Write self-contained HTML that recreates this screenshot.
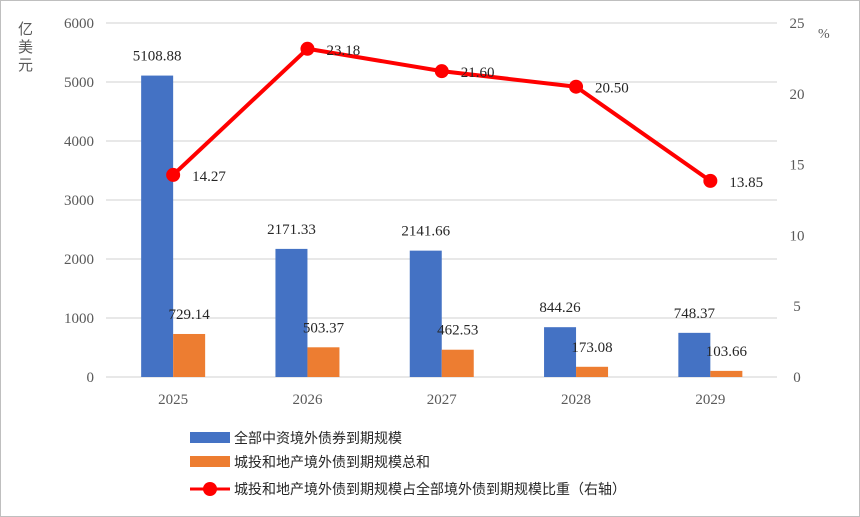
<!DOCTYPE html>
<html><head><meta charset="utf-8">
<style>
html,body{margin:0;padding:0;background:#fff;}
svg{display:block;font-family:"Liberation Serif","Noto Serif CJK SC",serif;}
.cj{font-family:"Liberation Sans","Noto Sans CJK SC",sans-serif;}
</style></head>
<body>
<svg id="chart" width="860" height="517" viewBox="0 0 860 517">
<rect x="0.5" y="0.5" width="859" height="516" fill="#fff" stroke="#bfbfbf"/>
<g id="axes"></g>
<g id="marks"></g>
<g id="labels"></g>
<text x="18" y="34" font-size="15" fill="#595959" class="cj">亿</text>
<text x="18" y="52" font-size="15" fill="#595959" class="cj">美</text>
<text x="18" y="70" font-size="15" fill="#595959" class="cj">元</text>
<text x="818" y="38" font-size="14" fill="#595959">%</text>
<g class="cj" font-size="14" fill="#262626">
<rect x="190" y="432" width="40" height="11" fill="#4472c4"/>
<text x="234" y="443">全部中资境外债券到期规模</text>
<rect x="190" y="456" width="40" height="11" fill="#ed7d31"/>
<text x="234" y="467">城投和地产境外债到期规模总和</text>
<line x1="190" y1="489" x2="230" y2="489" stroke="#ff0000" stroke-width="3"/>
<circle cx="210" cy="489" r="7" fill="#ff0000"/>
<text x="234" y="494">城投和地产境外债到期规模占全部境外债到期规模比重（右轴）</text>
</g>
</svg>
<script>
const categories = ["2025","2026","2027","2028","2029"];
const totalValues = [5108.88, 2171.33, 2141.66, 844.26, 748.37];
const lgfvValues = [729.14, 503.37, 462.53, 173.08, 103.66];
const ratioValues = [14.27, 23.18, 21.60, 20.50, 13.85];
const leftTicks = [0,1000,2000,3000,4000,5000,6000];
const rightTicks = [0,5,10,15,20,25];

const NS="http://www.w3.org/2000/svg";
const y0=377, yTop=23, plotL=106, plotR=777, step=134.3;
function yL(v){return y0-(v/6000)*(y0-yTop);}
function yR(v){return y0-(v/25)*(y0-yTop);}
function xC(i){return plotL+step*(i+0.5);}
function mk(tag,attrs,parent){const e=document.createElementNS(NS,tag);for(const k in attrs)e.setAttribute(k,attrs[k]);parent.appendChild(e);return e;}
const axes=document.getElementById('axes'),marks=document.getElementById('marks'),labels=document.getElementById('labels');

leftTicks.forEach(t=>{
  const g=mk('line',{x1:plotL,y1:yL(t),x2:plotR,y2:yL(t),stroke:'#d9d9d9','stroke-width':1.3},axes);
  
  
  const e=mk('text',{x:94,y:yL(t)+5,'font-size':15,fill:'#595959','text-anchor':'end'},axes);
  e.textContent=t;
  
  
});
rightTicks.forEach(t=>{
  const e=mk('text',{x:797,y:yR(t)+5,'font-size':15,fill:'#595959','text-anchor':'middle'},axes);
  e.textContent=t;
  
  
});
categories.forEach((c,i)=>{
  const e=mk('text',{x:xC(i),y:404,'font-size':15,fill:'#595959','text-anchor':'middle'},axes);
  e.textContent=c;
  
  
});
const bw=32;
totalValues.forEach((v,i)=>{
  const r=mk('rect',{x:xC(i)-bw,y:yL(v),width:bw,height:y0-yL(v),fill:'#4472c4'},marks);
  
  
  const t=mk('text',{x:xC(i)-bw/2,y:yL(v)-15,'font-size':15,fill:'#262626','text-anchor':'middle'},labels);
  t.textContent=v.toFixed(2);
  
  
});
lgfvValues.forEach((v,i)=>{
  const r=mk('rect',{x:xC(i),y:yL(v),width:bw,height:y0-yL(v),fill:'#ed7d31'},marks);
  
  
  const t=mk('text',{x:xC(i)+bw/2,y:yL(v)-15,'font-size':15,fill:'#262626','text-anchor':'middle'},labels);
  t.textContent=v.toFixed(2);
  
  
});
const pts=ratioValues.map((v,i)=>xC(i)+','+yR(v)).join(' ');
const pl=mk('polyline',{points:pts,fill:'none',stroke:'#ff0000','stroke-width':4,'stroke-linejoin':'round'},marks);


ratioValues.forEach((v,i)=>{
  const c=mk('circle',{cx:xC(i),cy:yR(v),r:7,fill:'#ff0000'},marks);
  
  
  const t=mk('text',{x:xC(i)+19,y:yR(v)+6,'font-size':15,fill:'#262626'},labels);
  t.textContent=v.toFixed(2);
  
  
});
</script>
</body></html>
